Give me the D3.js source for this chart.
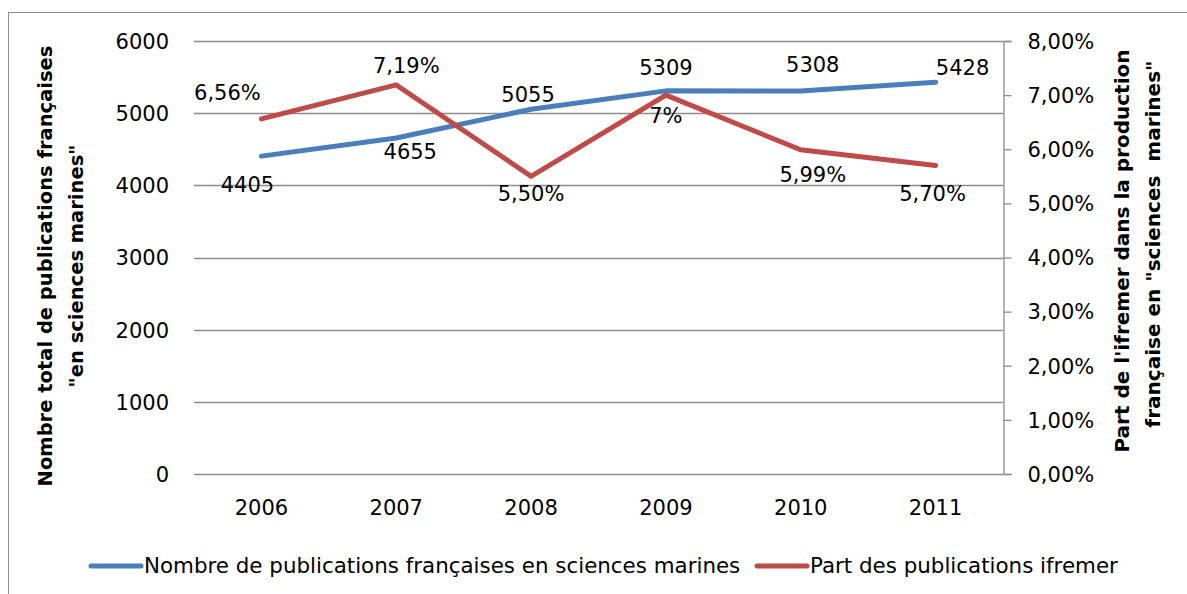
<!DOCTYPE html>
<html><head><meta charset="utf-8">
<script src="https://cdn.jsdelivr.net/npm/d3@7"></script>
<style>
body{margin:0;background:#fff;}
text{font-family:"DejaVu Sans",sans-serif;fill:#000;}
</style></head>
<body>
<svg id="c" width="1187" height="594"></svg>
<script>
const years = ["2006","2007","2008","2009","2010","2011"];
const publications = [4405, 4655, 5055, 5309, 5308, 5428];
const partIfremer = [6.56, 7.19, 5.50, 7.00, 5.99, 5.70];
const partLabels = ["6,56%","7,19%","5,50%","7%","5,99%","5,70%"];
const leftTicks = [0,1000,2000,3000,4000,5000,6000];
const rightTicks = [0,1,2,3,4,5,6,7,8];
const rightTickLabels = ["0,00%","1,00%","2,00%","3,00%","4,00%","5,00%","6,00%","7,00%","8,00%"];
const seriesNames = ["Nombre de publications françaises en sciences marines","Part des publications ifremer"];

// label offsets (style)
const pubOff = [[-14,29],[14,14],[-3,-15],[0,-23],[12,-26],[27,-15]];
const partOff = [[-34,-26],[10,-19],[0,17],[0,21],[12,25],[-3,28]];

const FS = 21;
const svg = d3.select("#c");
const L=194, R=1003, T=41, B=474;
const blue="#4A7EBB", red="#BE4B48";

svg.append("rect").attr("x",8.5).attr("y",12.5).attr("width",1300).attr("height",700)
  .attr("fill","none").attr("stroke","#8c8c8c").attr("stroke-width",1);

const x = d3.scaleBand().domain(years).range([L,R]);
const yL = d3.scaleLinear().domain([0,6000]).range([B,T]);
const yR = d3.scaleLinear().domain([0,8]).range([B,T]);

// gridlines
svg.append("g").selectAll("line").data(leftTicks).join("line")
  .attr("x1",L).attr("x2",R).attr("y1",d=>Math.round(yL(d))+0.5).attr("y2",d=>Math.round(yL(d))+0.5)
  .attr("stroke","#8c8c8c").attr("stroke-width",1.3);

// left axis labels
const ga = svg.append("g").attr("transform",`translate(${L},0)`)
  .call(d3.axisLeft(yL).tickValues(leftTicks).tickSize(0).tickPadding(25).tickFormat(d3.format("d")));
ga.select(".domain").remove();
ga.selectAll("text").attr("font-size",FS).attr("dy","0.35em");

// right axis
const gr = svg.append("g").attr("transform",`translate(${R+0.5},0)`)
  .call(d3.axisRight(yR).tickValues(rightTicks).tickSize(8).tickPadding(16).tickFormat((d,i)=>rightTickLabels[i]));
gr.select(".domain").attr("stroke","#8c8c8c").attr("stroke-width",1.3);
gr.selectAll("line").attr("stroke","#8c8c8c").attr("stroke-width",1.3);
gr.selectAll("text").attr("font-size",FS).attr("dy","0.35em");

// bottom axis
const gb = svg.append("g").attr("transform",`translate(0,${B})`)
  .call(d3.axisBottom(x).tickSize(0).tickPadding(26));
gb.select(".domain").remove();
gb.selectAll("text").attr("font-size",FS);

// lines
const xc = d=>x(d)+x.bandwidth()/2;
svg.append("path").datum(publications)
  .attr("d", d3.line().x((d,i)=>xc(years[i])).y(d=>yL(d)))
  .attr("fill","none").attr("stroke",blue).attr("stroke-width",5).attr("stroke-linejoin","round").attr("stroke-linecap","round");
svg.append("path").datum(partIfremer)
  .attr("d", d3.line().x((d,i)=>xc(years[i])).y(d=>yR(d)))
  .attr("fill","none").attr("stroke",red).attr("stroke-width",5).attr("stroke-linejoin","miter").attr("stroke-linecap","round");

// data labels
svg.append("g").selectAll("text").data(publications).join("text")
  .attr("x",(d,i)=>xc(years[i])+pubOff[i][0]).attr("y",(d,i)=>yL(d)+pubOff[i][1])
  .attr("text-anchor","middle").attr("dy","0.35em").attr("font-size",FS).text(d=>d);
svg.append("g").selectAll("text").data(partIfremer).join("text")
  .attr("x",(d,i)=>xc(years[i])+partOff[i][0]).attr("y",(d,i)=>yR(d)+partOff[i][1])
  .attr("text-anchor","middle").attr("dy","0.35em").attr("font-size",FS).text((d,i)=>partLabels[i]);

// axis titles
const lt = svg.append("text").attr("transform","translate(45,266) rotate(-90)")
  .attr("text-anchor","middle").attr("font-weight","bold").attr("font-size",19.5);
lt.append("tspan").attr("x",0).attr("dy","0.35em").text("Nombre total de publications françaises");
lt.append("tspan").attr("x",0).attr("dy","1.6em").text("\"en sciences marines\"");

const rt = svg.append("text").attr("transform","translate(1122,251) rotate(-90)")
  .attr("text-anchor","middle").attr("font-weight","bold").attr("font-size",20);
rt.append("tspan").attr("x",0).attr("dy","0.35em").text("Part de l'ifremer dans la production");
rt.append("tspan").attr("x",7).attr("dy","1.55em").attr("xml:space","preserve").text("française en \"sciences  marines\"");

// legend
const lg = svg.append("g");
const legItems = [{x:91,c:blue},{x:757,c:red}];
legItems.forEach((it,i)=>{
  lg.append("line").attr("x1",it.x).attr("x2",it.x+50).attr("y1",566).attr("y2",566)
    .attr("stroke",it.c).attr("stroke-width",5).attr("stroke-linecap","round");
  lg.append("text").attr("x",it.x+53).attr("y",566).attr("dy","0.35em").attr("font-size",21.4).text(seriesNames[i]);
});
</script>
</body></html>
